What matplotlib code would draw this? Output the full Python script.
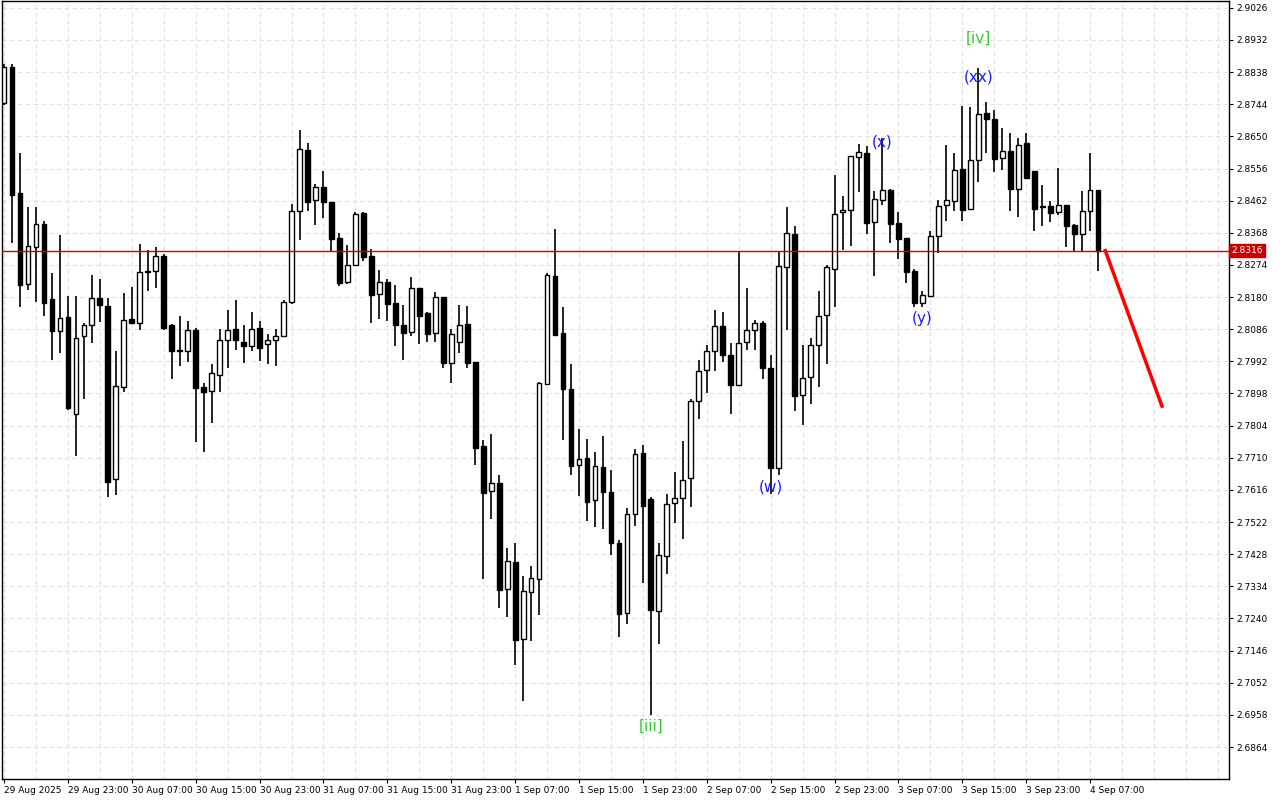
import matplotlib
matplotlib.use("Agg")
import matplotlib.pyplot as plt
from matplotlib.patches import Rectangle

opens = [2.8748,2.8853,2.8485,2.8219,2.8327,2.8394,2.8173,2.8082,2.8123,2.7837,
2.8065,2.8099,2.8178,2.8155,2.7647,2.7918,2.8117,2.8105,2.8254,2.8257,
2.8301,2.8097,2.8024,2.8021,2.8085,2.7916,2.7904,2.7953,2.8053,2.8088,
2.8050,2.8036,2.8091,2.8042,2.8053,2.8067,2.8167,2.8432,2.8611,2.8465,
2.8503,2.8459,2.8354,2.8225,2.8275,2.8426,2.8301,2.8190,2.8225,2.8164,
2.8099,2.8079,2.8208,2.8132,2.8076,2.8181,2.7988,2.8050,2.8102,2.7991,
2.7743,2.7612,2.7635,2.7326,2.7405,2.7180,2.7317,2.7355,2.7927,2.8242,
2.8076,2.7910,2.7688,2.7708,2.7586,2.7682,2.7609,2.7460,2.7255,2.7545,
2.7723,2.7589,2.7261,2.7422,2.7577,2.7591,2.7650,2.7875,2.7968,2.8021,
2.8094,2.8012,2.7924,2.8050,2.8085,2.8105,2.7974,2.7679,2.8269,2.8365,
2.7895,2.7945,2.8041,2.8129,2.8263,2.8429,2.8435,2.8590,2.8602,2.8400,
2.8465,2.8494,2.8397,2.8354,2.8257,2.8164,2.8184,2.8359,2.8450,2.8462,
2.8555,2.8438,2.8582,2.8719,2.8701,2.8588,2.8608,2.8497,2.8631,2.8549,
2.8444,2.8447,2.8429,2.8450,2.8392,2.8365,2.8432,2.8494]
highs = [2.8862,2.8862,2.8602,2.8442,2.8444,2.8403,2.8251,2.8362,2.8184,2.8184,
2.8105,2.8245,2.8234,2.8178,2.8021,2.8193,2.8210,2.8336,2.8319,2.8327,
2.8307,2.8102,2.8126,2.8111,2.8091,2.7930,2.7983,2.8088,2.8143,2.8170,
2.8099,2.8137,2.8111,2.8073,2.8088,2.8170,2.8453,2.8669,2.8631,2.8512,
2.8549,2.8459,2.8368,2.8333,2.8429,2.8429,2.8322,2.8260,2.8234,2.8216,
2.8158,2.8239,2.8208,2.8135,2.8196,2.8181,2.8088,2.8158,2.8155,2.7991,
2.7761,2.7781,2.7659,2.7446,2.7460,2.7364,2.7393,2.7933,2.8251,2.8380,
2.8150,2.7985,2.7793,2.7764,2.7726,2.7775,2.7673,2.7469,2.7562,2.7735,
2.7746,2.7594,2.7460,2.7603,2.7667,2.7758,2.7881,2.7997,2.8041,2.8143,
2.8135,2.8047,2.8316,2.8208,2.8114,2.8111,2.8012,2.8313,2.8442,2.8389,
2.8041,2.8059,2.8199,2.8275,2.8538,2.8476,2.8593,2.8628,2.8622,2.8491,
2.8646,2.8497,2.8429,2.8354,2.8263,2.8199,2.8374,2.8465,2.8625,2.8602,
2.8739,2.8736,2.8850,2.8751,2.8728,2.8675,2.8660,2.8646,2.8660,2.8549,
2.8508,2.8462,2.8558,2.8450,2.8394,2.8491,2.8602,2.8494]
lows = [2.8742,2.8339,2.8150,2.8202,2.8167,2.8126,2.7997,2.8015,2.7851,2.7714,
2.7881,2.8047,2.8108,2.7594,2.7600,2.7901,2.8102,2.8085,2.8199,2.8208,
2.8085,2.7939,2.7978,2.7991,2.7755,2.7726,2.7813,2.7901,2.7973,2.8024,
2.7988,2.8021,2.7994,2.7985,2.7979,2.8065,2.8161,2.8348,2.8432,2.8392,
2.8412,2.8316,2.8213,2.8219,2.8274,2.8286,2.8105,2.8117,2.8111,2.8038,
2.7997,2.8067,2.8044,2.8050,2.8050,2.7973,2.7930,2.8015,2.7973,2.7690,
2.7355,2.7530,2.7270,2.7244,2.7104,2.6999,2.7174,2.7250,2.7924,2.8069,
2.7761,2.7659,2.7597,2.7524,2.7507,2.7501,2.7425,2.7186,2.7223,2.7510,
2.7343,2.6957,2.7165,2.7370,2.7519,2.7472,2.7565,2.7822,2.7898,2.7965,
2.7991,2.7837,2.7923,2.8024,2.8024,2.7939,2.7603,2.7661,2.8085,2.7848,
2.7805,2.7866,2.7916,2.7985,2.8152,2.8319,2.8330,2.8488,2.8365,2.8243,
2.8450,2.8339,2.8292,2.8222,2.8152,2.8152,2.8183,2.8310,2.8403,2.8432,
2.8403,2.8435,2.8517,2.8602,2.8546,2.8552,2.8432,2.8415,2.8526,2.8374,
2.8389,2.8400,2.8420,2.8327,2.8316,2.8316,2.8374,2.8257]
closes = [2.8853,2.8479,2.8216,2.8330,2.8394,2.8164,2.8082,2.8120,2.7857,2.8059,
2.8099,2.8178,2.8158,2.7638,2.7921,2.8114,2.8105,2.8254,2.8257,2.8301,
2.8091,2.8021,2.8023,2.8085,2.7913,2.7901,2.7959,2.8053,2.8085,2.8053,
2.8036,2.8088,2.8030,2.8053,2.8067,2.8167,2.8432,2.8614,2.8459,2.8503,
2.8459,2.8351,2.8222,2.8275,2.8423,2.8298,2.8187,2.8225,2.8161,2.8097,
2.8076,2.8208,2.8126,2.8073,2.8181,2.7988,2.8073,2.8099,2.7988,2.7740,
2.7606,2.7635,2.7323,2.7408,2.7177,2.7320,2.7358,2.7930,2.8245,2.8070,
2.7910,2.7685,2.7705,2.7580,2.7685,2.7609,2.7460,2.7253,2.7545,2.7720,
2.7568,2.7264,2.7425,2.7574,2.7591,2.7644,2.7875,2.7965,2.8021,2.8094,
2.8012,2.7924,2.8047,2.8085,2.8105,2.7974,2.7679,2.8272,2.8368,2.7892,
2.7942,2.8041,2.8126,2.8269,2.8423,2.8435,2.8593,2.8605,2.8397,2.8467,
2.8494,2.8394,2.8351,2.8254,2.8164,2.8187,2.8359,2.8447,2.8465,2.8552,
2.8435,2.8582,2.8716,2.8701,2.8585,2.8608,2.8497,2.8625,2.8529,2.8438,
2.8443,2.8426,2.8450,2.8389,2.8365,2.8432,2.8494,2.8316]

current_price = 2.8316
forecast_bars = [137.9, 145]
forecast_prices = [2.8316, 2.7861]

yticks = [2.9026,2.8932,2.8838,2.8744,2.8650,2.8556,2.8462,2.8368,2.8274,2.8180,
2.8086,2.7992,2.7898,2.7804,2.7710,2.7616,2.7522,2.7428,2.7334,2.7240,
2.7146,2.7052,2.6958,2.6864]
xlabels = ["29 Aug 2025","29 Aug 23:00","30 Aug 07:00","30 Aug 15:00","30 Aug 23:00",
"31 Aug 07:00","31 Aug 15:00","31 Aug 23:00","1 Sep 07:00","1 Sep 15:00",
"1 Sep 23:00","2 Sep 07:00","2 Sep 15:00","2 Sep 23:00","3 Sep 07:00",
"3 Sep 15:00","3 Sep 23:00","4 Sep 07:00"]

wave_labels = [("[iii]", 81, 2.6926, "#33cc33"), ("(w)", 96, 2.7625, "#1a1aff"),
               ("(x)", 110, 2.8633, "#1a1aff"), ("(y)", 115, 2.8117, "#1a1aff"),
               ("(xx)", 122, 2.8825, "#1a1aff"), ("[iv]", 122, 2.8936, "#33cc33")]

fig = plt.figure(figsize=(12.8, 8), dpi=100)
ax = fig.add_axes([0.0016, 0.026, 0.9586, 0.9728])
ax.set_xlim(-0.25, 153.4)
ax.set_ylim(2.6770, 2.9046)

for v in yticks:
    ax.axhline(v, color="#e0e0e0", lw=0.8, ls=(0, (4, 3)), zorder=0)
for b in range(0, 154, 4):
    ax.axvline(b, color="#e0e0e0", lw=0.8, ls=(0, (4, 3)), zorder=0)

w = 0.6
for i, (o, h, l, c) in enumerate(zip(opens, highs, lows, closes)):
    ax.plot([i, i], [l, h], color="black", lw=1.2, zorder=2, solid_capstyle="butt")
    bot = min(o, c)
    hgt = max(abs(c - o), 0.0002)
    if c >= o:
        ax.add_patch(Rectangle((i - w/2, bot), w, hgt, facecolor="white",
                               edgecolor="black", lw=1.0, zorder=3))
    else:
        ax.add_patch(Rectangle((i - w/2, bot), w, hgt, facecolor="black",
                               edgecolor="black", lw=1.0, zorder=3))

ax.axhline(current_price, color="#cc0000", lw=1.0, zorder=4)
ax.plot(forecast_bars, forecast_prices, color="#ff0000", lw=2.5, zorder=5)

for txt, b, p, col in wave_labels:
    ax.text(b, p, txt, color=col, fontsize=11, ha="center", va="center", zorder=6)

ax.yaxis.tick_right()
ax.set_yticks(yticks)
ax.set_yticklabels([f"{v:.4f}" for v in yticks], fontsize=6.5)
ax.set_xticks(range(0, 8 * len(xlabels), 8))
ax.set_xticklabels(xlabels, fontsize=6.5, ha="left")
ax.tick_params(axis="both", length=3, width=0.8, pad=2)
for s in ax.spines.values():
    s.set_linewidth(1.0)

ax.text(1.002, current_price, f"{current_price:.4f}", transform=ax.get_yaxis_transform(),
        fontsize=6.5, color="white", va="center", ha="left",
        bbox=dict(boxstyle="square,pad=0.25", facecolor="#cc0000", edgecolor="#cc0000"))

fig.savefig("out.png", dpi=100, facecolor="white")
